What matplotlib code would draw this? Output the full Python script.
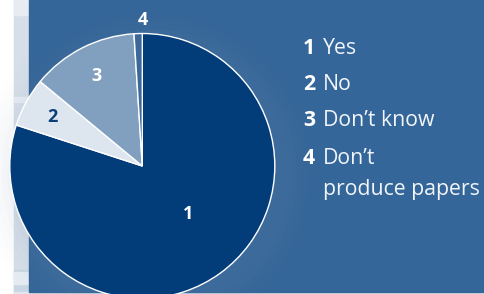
import matplotlib
matplotlib.use("Agg")
import matplotlib.pyplot as plt
from matplotlib.patches import Rectangle, Circle
import numpy as np

# Data
numbers = ["1", "2", "3", "4"]
categories = ["Yes", "No", "Don\u2019t know", "Don\u2019t\nproduce papers"]
values = [80, 6, 13, 1]

# Style
slice_colors = ["#023d7a", "#dde5ee", "#819fbf", "#3b6899"]
label_colors = ["white", "#0b3f7a", "white", "white"]
label_dist = [0.50, 0.77, 0.76, 1.10]
label_angle_shift = [8, 0, 0, -2]
bg_blue = "#356699"

W, H = 484, 294
fig = plt.figure(figsize=(W / 100, H / 100), dpi=100)
ax = fig.add_axes([0, 0, 1, 1])

# Background panels
ax.add_patch(Rectangle((0, 0), W, H, color="white", zorder=0))
ax.add_patch(Rectangle((14, 0), 15, H, color="#d6dfe9", zorder=0.5))
ax.add_patch(Rectangle((14, H - 15), 15, 15, color="#e7ecf3", zorder=0.6))
ax.add_patch(Rectangle((14, H - 102), 15, 5, color="#e7ecf3", zorder=0.6))
ax.add_patch(Rectangle((14, 0), 15, 24, color="#c9d6e3", zorder=0.6))
ax.add_patch(Rectangle((14, 10), 15, 12, color="#e7ecf3", zorder=0.6))
ax.add_patch(Rectangle((14, 0), W - 14, 2, color="#dfe6ee", zorder=0.6))
ax.add_patch(Rectangle((29, 2), W - 29, H - 2, color=bg_blue, zorder=1))

cx, cy, r = 142.3, H - 166, 132.5

# soft shadow glow around the pie
for i, a in enumerate(np.linspace(0.035, 0.0, 8)):
    ax.add_patch(Circle((cx + 10, cy - 8), r + 6 + i * 6, color="#7f9fc2",
                        alpha=a, lw=0, zorder=1.5))

wedges, _ = ax.pie(values, colors=slice_colors, startangle=90, counterclock=False,
                   center=(cx, cy), radius=r, frame=True,
                   wedgeprops=dict(edgecolor="white", linewidth=1.0))
for w in wedges:
    w.set_zorder(2)
ax.set_xlim(0, W)
ax.set_ylim(0, H)
ax.axis("off")

for w, num, col, d, sh in zip(wedges, numbers, label_colors, label_dist, label_angle_shift):
    mid = np.deg2rad((w.theta1 + w.theta2) / 2 + sh)
    ax.text(cx + d * r * np.cos(mid), cy + d * r * np.sin(mid), num,
            color=col, fontsize=13, fontweight="bold", family="Open Sans",
            ha="center", va="center", zorder=3)

# Legend
ys = [49, 85, 121, 158]
fs = 15.3
for num, cat, y in zip(numbers, categories, ys):
    ax.text(303, H - y, num, color="white", fontsize=fs, fontweight="bold",
            family="Open Sans", ha="left", va="center", zorder=3)
    for k, line in enumerate(cat.split("\n")):
        ax.text(323, H - y - k * 31, line, color="#f2f5f9", fontsize=fs,
                family="Open Sans", ha="left", va="center", zorder=3)

fig.savefig("out.png", dpi=100)
